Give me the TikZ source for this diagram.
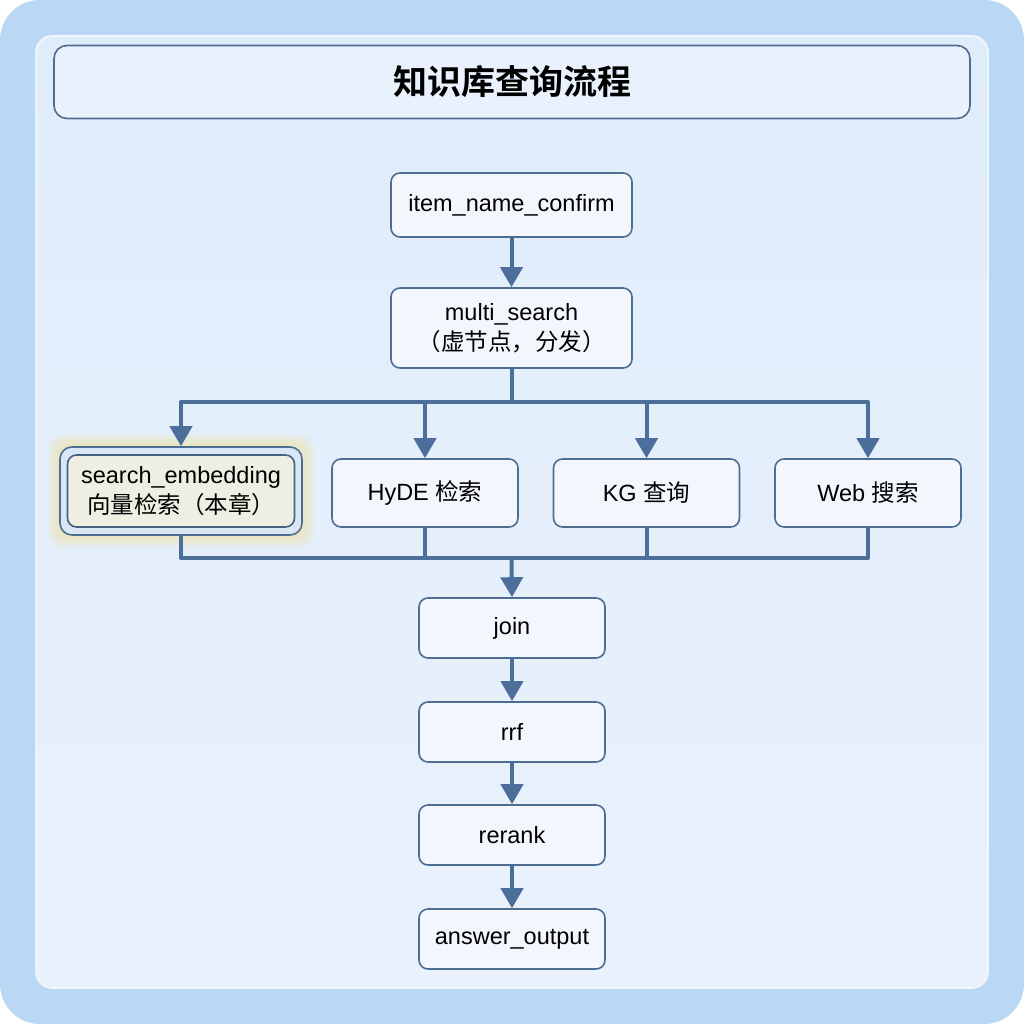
\documentclass[tikz,border=0pt]{standalone}
\usepackage{fontspec}
\setmainfont{Liberation Sans}
\newfontfamily\cjk{Noto Sans CJK SC}
\newfontfamily\cjkb{Noto Sans CJK SC Bold}
\usetikzlibrary{arrows.meta,calc,positioning}
\definecolor{outerbg}{HTML}{BAD7F4}
\definecolor{panelbg}{HTML}{DFECFA}
\definecolor{panelbg2}{HTML}{E9F2FC}
\definecolor{boxline}{HTML}{4E6D91}
\definecolor{boxfill}{HTML}{F3F7FD}
\definecolor{arrowc}{HTML}{4B6E9B}
\definecolor{beige}{HTML}{EEEEE3}
\definecolor{glow}{HTML}{F2E3A0}
\definecolor{sefill}{HTML}{D9E6F5}
\tikzset{
  flowbox/.style={draw=boxline, line width=1.6pt, fill=boxfill, rounded corners=9pt,
    minimum width=186pt, minimum height=60pt, align=center, inner sep=0pt,
    font=\fontsize{23.5}{30}\selectfont},
  conn/.style={draw=arrowc, line width=4pt, line join=round},
  arr/.style={conn, -{Triangle[width=22pt,length=20pt]}},
}
\begin{document}
\begin{tikzpicture}[x=1pt,y=-1pt]
\useasboundingbox (0,0) rectangle (1024,1024);
% background
\fill[outerbg, rounded corners=40pt] (0,0) rectangle (1024,1024);
\shade[top color=panelbg, bottom color=panelbg2, rounded corners=16pt, draw=white!70!panelbg, line width=1.5pt] (36,36) rectangle (988,988);
% title
\node[draw=boxline, line width=1.6pt, fill=panelbg2, rounded corners=13pt, minimum width=916pt, minimum height=73pt, inner sep=0pt, font=\fontsize{34}{40}\selectfont\cjkb] (title) at (512,82) {知识库查询流程};
% nodes
\node[flowbox, minimum width=241pt, minimum height=64pt] (inc) at (511.5,205) {item\_name\_confirm};
\node[flowbox, minimum width=241pt, minimum height=80pt] (ms) at (511.5,328) {multi\_search\\{\cjk （虚节点，分发）}};
% glow
\foreach \i in {1,...,8}{
  \fill[glow, opacity=0.10, rounded corners=14pt] (60-\i*1.6,447-\i*1.6) rectangle (302+\i*1.6,535+\i*1.6);
}
\node[draw=boxline, line width=1.6pt, fill=sefill, rounded corners=12pt, minimum width=242pt, minimum height=88pt, inner sep=0pt] (se) at (181,491) {};
\node[flowbox, fill=beige, draw=boxline!90!black, minimum width=227pt, minimum height=72pt] (sei) at (181,491) {search\_embedding\\{\cjk 向量检索（本章）}};
\node[flowbox, minimum height=68pt] (hy) at (425,493) {HyDE {\cjk 检索}};
\node[flowbox, minimum height=68pt] (kg) at (646.5,493) {KG {\cjk 查询}};
\node[flowbox, minimum height=68pt] (web) at (868,493) {Web {\cjk 搜索}};
\node[flowbox] (join) at (512,628) {join};
\node[flowbox] (rrf) at (512,732) {rrf};
\node[flowbox] (rerank) at (512,835) {rerank};
\node[flowbox] (ans) at (512,939) {answer\_output};
% connectors
\draw[arr] (inc.south) -- (ms.north);
\coordinate (bus) at (511.5,402);
\draw[arr] (ms.south) -- (bus) -| (se.north);
\draw[arr] (bus) -| (hy.north);
\draw[arr] (bus) -| (kg.north);
\draw[arr] (bus) -| (web.north);
\coordinate (merge) at (511.5,558);
\draw[conn] (se.south) |- (merge);
\draw[conn] (hy.south) |- (merge);
\draw[conn] (kg.south) |- (merge);
\draw[conn] (web.south) |- (merge);
\draw[arr] (merge) -- (join.north);
\draw[arr] (join.south) -- (rrf.north);
\draw[arr] (rrf.south) -- (rerank.north);
\draw[arr] (rerank.south) -- (ans.north);
\end{tikzpicture}
\end{document}
